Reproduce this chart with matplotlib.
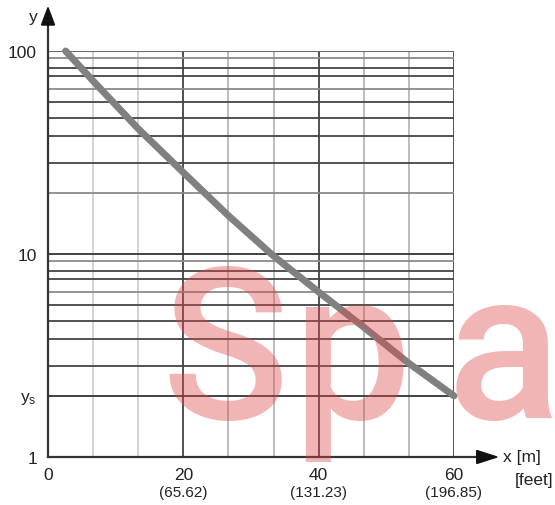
import numpy as np
import matplotlib
matplotlib.use('Agg')
import matplotlib.pyplot as plt
from matplotlib.patches import Polygon
from matplotlib.ticker import NullLocator
import matplotlib.transforms as mtransforms

plt.rcParams['font.family'] = ['Liberation Sans', 'DejaVu Sans']

# curve (x in m, y on log scale)
dist_m = [2.6, 6.7, 13.3, 20, 26.7, 33.3, 40, 46.7, 53.3, 60]
y_vals = [100, 71, 41.5, 25.2, 15.4, 9.8, 6.5, 4.35, 2.9, 2.0]

x_ticks = [0, 20, 40, 60]
x_labels = ['0', '20', '40', '60']
feet_labels = ['', '(65.62)', '(131.23)', '(196.85)']
y_ticks = [1, 2, 10, 100]
y_labels = ['1', r'$\mathregular{y_s}$', '10', '100']

# grid positions inside one decade (as drawn in the original)
minor_grid = [2.8, 3.8, 4.7, 5.6, 6.5, 7.5, 8.2, 9.2]
grey_minor = [9.2, 6.5]

fig = plt.figure(figsize=(5.55, 5.06), dpi=100)
ax = fig.add_axes([48 / 555, 48 / 506, 406 / 555, 406 / 506])
ax.set_yscale('log')
ax.set_xlim(0, 60)
ax.set_ylim(1, 100)

# vertical grid
for gx in np.linspace(0, 60, 10)[1:]:
    if round(gx) in (20, 40, 60):
        ax.axvline(gx, color='#333333', lw=1.2, zorder=1)
    elif gx < 15:
        ax.axvline(gx, color='#cccccc', lw=1.2, zorder=1)
    else:
        ax.axvline(gx, color='#b0b0b0', lw=1.2, zorder=1)

# horizontal grid
for dec in (1, 10):
    for m in minor_grid:
        c = '#8a8a8a' if m in grey_minor else '#444444'
        ax.axhline(m * dec, color=c, lw=1.3, zorder=1)
ax.axhline(20, color='#8a8a8a', lw=1.3, zorder=1)
ax.axhline(2, color='#333333', lw=1.3, zorder=1)
ax.axhline(10, color='#333333', lw=1.3, zorder=1)
ax.axhline(100, color='#6a6a6a', lw=1.5, zorder=1)

ax.plot(dist_m, y_vals, color='#808080', lw=5, solid_capstyle='round',
        solid_joinstyle='round', clip_on=False, zorder=3)

for s in ax.spines.values():
    s.set_visible(False)

ax.set_xticks(x_ticks)
ax.set_xticklabels(x_labels, fontsize=12.5, color='#222222')
ax.set_yticks(y_ticks)
ax.set_yticklabels(y_labels, fontsize=12.5, color='#222222')
ax.yaxis.set_minor_locator(NullLocator())
ax.tick_params(axis='x', length=0, pad=7)
ax.tick_params(axis='y', length=0, pad=8)

trans = mtransforms.blended_transform_factory(ax.transData, ax.transAxes)
for xv, lab in zip(x_ticks, feet_labels):
    ax.text(xv, -0.087, lab, transform=trans, ha='center', va='center',
            fontsize=11, color='#222222')

# axes with arrows
ax.plot([0, 0], [0, 1.07], transform=ax.transAxes, color='#333333', lw=1.6,
        clip_on=False, zorder=4)
ax.plot([0, 1.06], [0, 0], transform=ax.transAxes, color='#333333', lw=1.6,
        clip_on=False, zorder=4)
ax.add_patch(Polygon([[-0.016, 1.064], [0.016, 1.064], [0, 1.107]], closed=True,
                     transform=ax.transAxes, color='#111111', clip_on=False, zorder=5))
ax.add_patch(Polygon([[1.056, -0.016], [1.056, 0.016], [1.106, 0]], closed=True,
                     transform=ax.transAxes, color='#111111', clip_on=False, zorder=5))

ax.text(-0.025, 1.085, 'y', transform=ax.transAxes, ha='right', va='center',
        fontsize=12.5, color='#222222')
ax.text(1.12, 0.0, 'x [m]', transform=ax.transAxes, ha='left', va='center',
        fontsize=12.5, color='#222222')
ax.text(1.15, -0.055, '[feet]', transform=ax.transAxes, ha='left', va='center',
        fontsize=12.5, color='#222222')

# watermark, letter by letter
for ch, px in zip('Spa', [161, 292, 447]):
    fig.text(px / 555, (506 - 419) / 506, ch, fontsize=152, fontweight='medium',
             family='Roboto', color='#e04848', alpha=0.4, ha='left',
             va='baseline', zorder=10)

fig.savefig('out.png', dpi=100)
